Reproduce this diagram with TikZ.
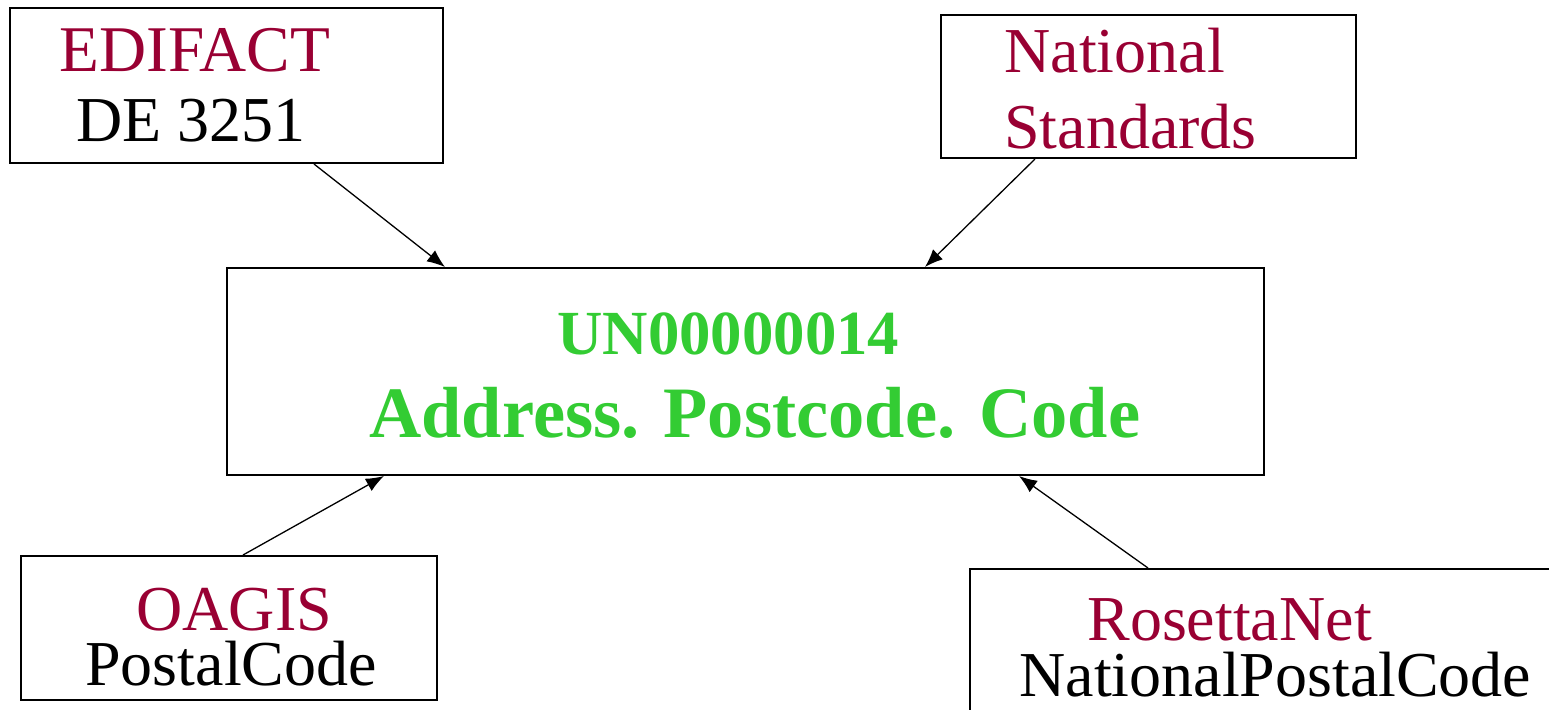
\documentclass[tikz,border=0pt]{standalone}
\usepackage{fontspec}
\setmainfont{Liberation Serif}
\usetikzlibrary{arrows.meta}
\definecolor{maroon}{HTML}{990033}
\definecolor{limegreen}{HTML}{33CC33}

\begin{document}
\begin{tikzpicture}[x=0.5pt,y=-0.5pt,>={Latex[length=9pt,width=7pt]},
  box/.style={draw,line width=1pt,rectangle,inner sep=0pt},
  txt/.style={inner sep=0pt,anchor=base west,font=\fontsize{32}{38}\selectfont},
  head/.style={txt,text=maroon,text depth=0pt},
  bighead/.style={inner sep=0pt,anchor=base west,text=limegreen,font=\fontsize{31.4}{37}\bfseries\selectfont},
  bigname/.style={bighead,font=\fontsize{36.2}{44}\bfseries\selectfont},
  link/.style={->,line width=0.65pt}]
\useasboundingbox (0,0) rectangle (1549,709);
\clip (0,0) rectangle (1549,709);

\node[box,minimum width=216.5pt,minimum height=77.5pt] (edifact) at (226.5,85.5) {};
\node[box,minimum width=207.5pt,minimum height=71.5pt] (natstd) at (1148.5,86.5) {};
\node[box,minimum width=518.5pt,minimum height=103.5pt] (main) at (745.5,371.5) {};
\node[box,minimum width=208pt,minimum height=72pt] (oagis) at (229,628) {};
\node[box,minimum width=310pt,minimum height=75pt] (rosetta) at (1280,644) {};

\node[head] (edifact-h) at (59,71) {\fontsize{32.6}{38}\selectfont EDIFACT};
\node[txt] (edifact-b) at (76,141) {DE 3251};
\node[head] (natstd-h) at (1004,72) {National};
\node[head] (natstd-b) at (1004,148) {Standards};
\node[bighead] (main-h) at (557,354) {UN00000014};
\node[bigname] (main-b) at (369,437) {Address. Postcode. Code};
\node[head] (oagis-h) at (136,630) {OAGIS};
\node[txt] (oagis-b) at (85,685) {PostalCode};
\node[head] (rosetta-h) at (1087,640) {RosettaNet};
\node[txt] (rosetta-b) at (1019,696) {NationalPostalCode};

\path[link] ([xshift=152.5pt]edifact.south west) edge ([xshift=109.5pt]main.north west)
([xshift=47.5pt]natstd.south west) edge ([xshift=349.5pt]main.north west)
([xshift=111.5pt]oagis.north west) edge ([xshift=79pt]main.south west)
([xshift=89.5pt]rosetta.north west) edge ([xshift=396.5pt]main.south west);
\end{tikzpicture}
\end{document}
